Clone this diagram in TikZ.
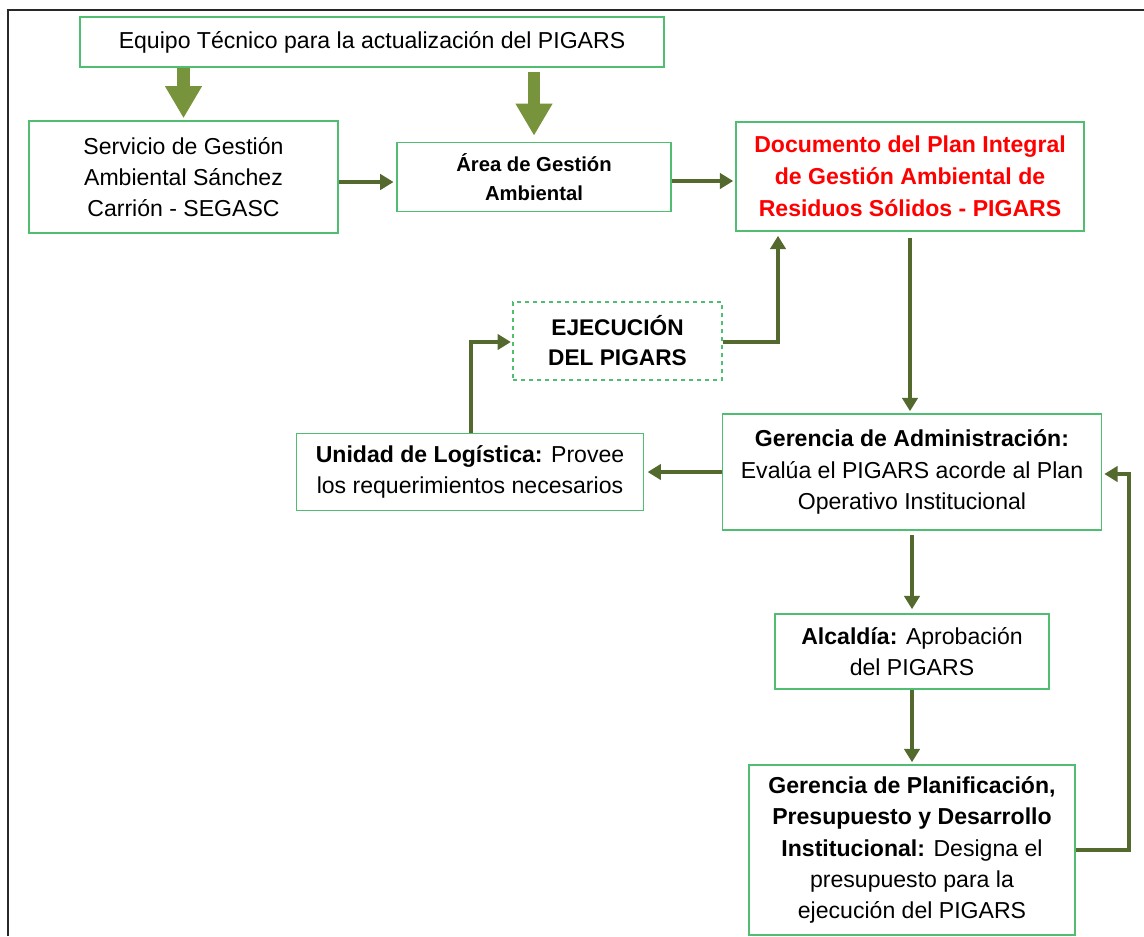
\documentclass[tikz,border=0pt]{standalone}
\usepackage{fontspec}
\setmainfont{Liberation Sans}
\usetikzlibrary{arrows.meta,calc}
\definecolor{boxc}{RGB}{80,190,112}
\definecolor{arrowc}{RGB}{84,105,45}
\definecolor{blockc}{RGB}{119,147,60}
\definecolor{framec}{RGB}{40,40,40}
\begin{document}
\begin{tikzpicture}[x=0.75pt,y=-0.75pt,
  box/.style={draw=boxc,line width=1.2pt,align=center,inner sep=0pt,
    font=\fontsize{17.3}{23.5}\selectfont},
  conn/.style={draw=arrowc,line width=2.5pt,line join=miter,
    -{Triangle[length=10pt,width=11.5pt]}},
  block/.style={draw=blockc,line width=9.5pt,
    -{Triangle[length=24pt,width=26pt]}}]
\useasboundingbox (0,0) rectangle (1144,936);
\draw[framec,line width=1.6pt] (8,936) -- (8,10) -- (1144,10);

\node[box,minimum width=438pt,minimum height=37.5pt] (equipo) at (372,42)
  {Equipo Técnico para la actualización del PIGARS};
\node[box,minimum width=231.75pt,minimum height=84pt] (servicio) at (183.5,177)
  {Servicio de Gestión\\Ambiental Sánchez\\Carrión - SEGASC};
\node[box,minimum width=205.5pt,minimum height=51.75pt,
  font=\fontsize{15.2}{21.75}\selectfont\bfseries] (area) at (534,177)
  {Área de Gestión\\Ambiental};
\node[box,minimum width=261pt,minimum height=81.75pt,text=red,
  font=\fontsize{17.3}{24}\selectfont\bfseries] (doc) at (910,176.5)
  {Documento del Plan Integral\\de Gestión Ambiental de\\Residuos Sólidos - PIGARS};
\node[box,dashed,minimum width=156.75pt,minimum height=58.5pt,
  font=\fontsize{17}{22.5}\selectfont\bfseries] (ejec) at (617.5,341)
  {EJECUCIÓN\\DEL PIGARS};
\node[box,minimum width=260.25pt,minimum height=57.75pt] (unidad) at (470,472)
  {\textbf{Unidad de Logística:} Provee\\los requerimientos necesarios};
\node[box,minimum width=284.25pt,minimum height=87pt] (geradm) at (912,472)
  {\textbf{Gerencia de Administración:}\\Evalúa el PIGARS acorde al Plan\\Operativo Institucional};
\node[box,minimum width=205.5pt,minimum height=56.25pt] (alc) at (912,651.5)
  {\textbf{Alcaldía:} Aprobación\\del PIGARS};
\node[box,minimum width=244.5pt,minimum height=127.5pt] (gerplan) at (912,850)
  {\textbf{Gerencia de Planificación,}\\\textbf{Presupuesto y Desarrollo}\\\textbf{Institucional:} Designa el\\presupuesto para la\\ejecución del PIGARS};

% block arrows
\draw[block] (equipo.south -| servicio.north) -- ([yshift=1.5pt]servicio.north);
\draw[block,shorten <=3pt] (equipo.south -| area.north) -- ([yshift=4.5pt]area.north);

% connectors
\draw[conn,shorten >=2pt] ([yshift=-3.75pt]servicio.east) coordinate (s1) -- (s1 -| area.west);
\draw[conn,shorten >=1.5pt] ([yshift=-3pt]area.east) coordinate (a1) -- (a1 -| doc.west);
\draw[conn,shorten <=5pt,shorten >=1.5pt] (doc.south) -- (doc.south |- geradm.north);
\coordinate (ejc) at (778,0);
\draw[conn,shorten >=3pt] ([yshift=-0.75pt]ejec.east) -| (doc.south -| ejc);
\coordinate (unc) at (471,0);
\draw[conn] (unidad.north -| unc) |- ([yshift=-0.75pt,xshift=-1pt]ejec.west);
\draw[conn,shorten >=2.5pt] (geradm.west) -- (geradm.west -| unidad.east);
\draw[conn,shorten <=3pt,shorten >=3pt] (geradm.south) -- (geradm.south |- alc.north);
\draw[conn,shorten >=1.5pt] (alc.south) -- (alc.south |- gerplan.north);
\coordinate (fb) at (1129,474);
\draw[conn,shorten >=1.5pt] (gerplan.east) -| (fb) -- (fb -| geradm.east);
\end{tikzpicture}
\end{document}
